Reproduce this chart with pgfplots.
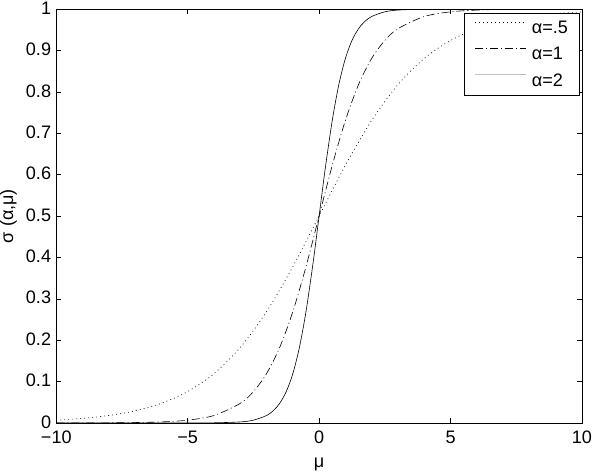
\documentclass[border=0pt]{standalone}
\usepackage{fontspec}
\setmainfont{Liberation Sans}
\usepackage{pgfplots}
\pgfplotsset{compat=1.18}

\begin{document}
\begin{tikzpicture}
\begin{axis}[
    scale only axis,
    width=522bp, height=411bp,
    xmin=-10, xmax=10, ymin=0, ymax=1,
    xtick={-10,-5,0,5,10},
    xticklabels={−10,−5,0,5,10},
    ytick={0,0.1,0.2,0.3,0.4,0.5,0.6,0.7,0.8,0.9,1},
    yticklabels={0,0.1,0.2,0.3,0.4,0.5,0.6,0.7,0.8,0.9,1},
    tick align=inside,
    major tick length=5bp,
    tick style={black, line width=0.5pt},
    axis line style={line width=0.6pt},
    every tick label/.append style={font=\fontsize{18}{20}\selectfont},
    every axis label/.append style={font=\fontsize{18}{20}\selectfont},
    xticklabel style={inner sep=0pt, yshift=-8bp},
    yticklabel style={inner sep=0pt, xshift=-5bp, yshift=1bp},
    xlabel={μ},
    ylabel={σ (α,μ)},
    xlabel style={at={(axis description cs:0.5,-0.085)}, anchor=north, inner sep=0pt},
    ylabel style={at={(axis description cs:-0.0747,0.5)}, anchor=south, inner sep=0pt},
    /pgf/number format/assume math mode=true,
    legend style={at={(rel axis cs:0.995,0.99)}, anchor=north east,
        draw=black, line width=0.5pt, font=\fontsize{18}{20}\selectfont,
        nodes={inner sep=0pt}, inner xsep=11bp, inner ysep=8bp,
        row sep=12bp, column sep=6bp},
    legend cell align=left,
    legend image code/.code={\draw[#1] (0bp,6bp) -- (50bp,6bp);},
]
% alpha = 0.5
\addplot[black, line width=0.7pt, dash pattern=on 0.8pt off 3.2pt, smooth] coordinates {
    (-10,0.00669) (-9,0.01099) (-8,0.01799) (-7,0.02931) (-6,0.04743)
    (-5,0.07586) (-4,0.11920) (-3,0.18243) (-2,0.26894) (-1,0.37754)
    (0,0.5)
    (1,0.62246) (2,0.73106) (3,0.81757) (4,0.88080) (5,0.92414)
    (6,0.95257) (7,0.97069) (8,0.98201) (9,0.98901) (10,0.99331)
};
\addlegendentry{α=.5}
% alpha = 1
\addplot[black, line width=0.6pt, dash pattern=on 8pt off 3pt on 1pt off 3pt, smooth] coordinates {
    (-10,0.0000454) (-9,0.000123) (-8,0.000335) (-7,0.000911) (-6,0.002473)
    (-5,0.006693) (-4,0.017986) (-3,0.047426) (-2.5,0.075858) (-2,0.119203)
    (-1.5,0.182426) (-1,0.268941) (-0.5,0.377541) (0,0.5)
    (0.5,0.622459) (1,0.731059) (1.5,0.817574) (2,0.880797) (2.5,0.924142)
    (3,0.952574) (4,0.982014) (5,0.993307) (6,0.997527) (7,0.999089)
    (8,0.999665) (9,0.999877) (10,0.999955)
};
\addlegendentry{α=1}
% alpha = 2
\addplot[black, line width=0.6pt, smooth,
    legend image code/.code={\draw[black!25, line width=0.6pt] (0bp,6bp) -- (50bp,6bp);}]
    coordinates {
    (-10,0.0000000) (-9,0.0000000) (-8,0.0000001) (-7,0.0000008) (-6,0.0000061)
    (-5,0.0000454) (-4,0.000335) (-3,0.002473) (-2.5,0.006693) (-2,0.017986)
    (-1.75,0.029312) (-1.5,0.047426) (-1.25,0.075858) (-1,0.119203)
    (-0.75,0.182426) (-0.5,0.268941) (-0.25,0.377541) (-0.125,0.437823) (0,0.5)
    (0.125,0.562177) (0.25,0.622459) (0.5,0.731059) (0.75,0.817574)
    (1,0.880797) (1.25,0.924142) (1.5,0.952574) (1.75,0.970688)
    (2,0.982014) (2.5,0.993307) (3,0.997527) (4,0.999665) (5,0.999955)
    (6,0.999994) (7,0.999999) (8,1.0) (9,1.0) (10,1.0)
};
\addlegendentry{α=2}
\coordinate (topleft) at (rel axis cs:0,1);
\end{axis}
% a little room above the axis, as in the reference
\path (topleft) ++(0,9bp);
\end{tikzpicture}
\end{document}
